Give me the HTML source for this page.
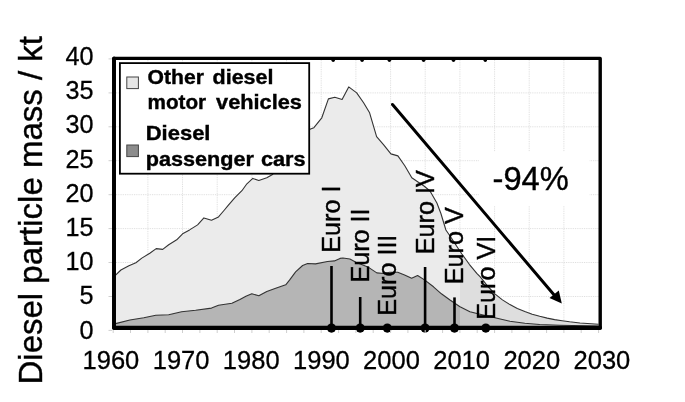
<!DOCTYPE html>
<html><head><meta charset="utf-8"><title>Diesel particle mass</title>
<style>
html,body{margin:0;padding:0;background:#fff;}
svg{display:block;}
text{font-family:"Liberation Sans",Arial,sans-serif;fill:#000;}
</style></head><body>
<svg width="685" height="402" viewBox="0 0 685 402">
<rect width="685" height="402" fill="#fff"/>
<defs>
<clipPath id="cl"><rect x="113" y="58" width="347" height="272"/></clipPath>
<clipPath id="cr"><rect x="460" y="58" width="140" height="272"/></clipPath>
</defs>
<g stroke="#dcdcdc" stroke-width="1" stroke-dasharray="0.9,0.9" fill="none">
<line x1="147.9" y1="60" x2="147.9" y2="326"/>
<line x1="182.5" y1="60" x2="182.5" y2="326"/>
<line x1="217.2" y1="60" x2="217.2" y2="326"/>
<line x1="251.9" y1="60" x2="251.9" y2="326"/>
<line x1="286.6" y1="60" x2="286.6" y2="326"/>
<line x1="321.2" y1="60" x2="321.2" y2="326"/>
<line x1="355.9" y1="60" x2="355.9" y2="326"/>
<line x1="390.6" y1="60" x2="390.6" y2="326"/>
<line x1="425.2" y1="60" x2="425.2" y2="326"/>
<line x1="459.9" y1="60" x2="459.9" y2="326"/>
<line x1="494.6" y1="60" x2="494.6" y2="326"/>
<line x1="529.2" y1="60" x2="529.2" y2="326"/>
<line x1="563.9" y1="60" x2="563.9" y2="326"/>
<line x1="116" y1="296.5" x2="599" y2="296.5"/>
<line x1="116" y1="262.5" x2="599" y2="262.5"/>
<line x1="116" y1="228.6" x2="599" y2="228.6"/>
<line x1="116" y1="194.7" x2="599" y2="194.7"/>
<line x1="116" y1="160.7" x2="599" y2="160.7"/>
<line x1="116" y1="126.8" x2="599" y2="126.8"/>
<line x1="116" y1="92.9" x2="599" y2="92.9"/>
</g>
<g clip-path="url(#cl)">
<path d="M113.2,277.0 L115.6,275.2 L120.9,270.0 L128.9,265.7 L135.9,262.7 L141.8,258.1 L149.8,253.3 L156.2,248.6 L162.7,249.4 L168.7,244.8 L176.7,239.8 L182.6,233.8 L189.6,229.9 L197.6,224.9 L203.9,217.9 L211.5,220.3 L218.5,216.9 L224.4,210.0 L228.0,205.7 L234.9,197.7 L241.9,190.7 L246.9,183.8 L252.8,178.4 L258.8,180.4 L266.8,177.8 L272.1,174.8 L280.0,166.0 L287.0,158.0 L294.0,150.0 L301.0,140.0 L309.9,129.3 L313.9,127.7 L321.8,117.8 L328.4,98.9 L334.8,97.3 L342.1,99.5 L348.7,86.9 L356.7,92.9 L363.6,102.8 L369.6,112.8 L376.6,136.7 L383.7,144.8 L390.9,153.9 L397.9,155.9 L404.8,165.8 L411.8,177.8 L418.0,182.0 L424.0,186.0 L430.0,191.0 L436.9,203.0 L440.9,213.5 L445.9,230.0 L451.4,238.0 L455.9,245.0 L461.9,254.0 L469.3,264.3 L476.8,273.3 L480.0,276.7 L484.3,281.8 L487.5,286.0 L494.9,293.9 L502.4,299.9 L509.9,304.6 L517.3,308.5 L524.8,311.5 L532.2,314.2 L539.7,316.3 L547.2,318.1 L554.6,319.6 L562.1,320.7 L569.6,321.8 L580.0,323.0 L598.5,324.2 L598.5,329 L113.2,329 Z" fill="#ebebeb"/>
<path d="M113.2,324.0 L115.6,323.6 L129.9,320.0 L143.8,317.7 L155.8,315.3 L168.7,314.7 L181.6,311.7 L195.6,310.3 L211.5,308.1 L218.5,305.3 L231.9,303.3 L239.9,299.4 L245.9,296.2 L251.8,293.8 L258.8,295.8 L266.8,291.4 L275.7,288.2 L285.7,284.8 L289.7,279.9 L295.6,271.9 L302.6,265.5 L307.6,263.5 L315.5,263.9 L327.5,261.5 L334.4,260.9 L340.0,258.4 L342.9,258.0 L349.9,259.0 L355.9,262.3 L367.8,266.9 L376.8,272.9 L383.7,273.5 L389.7,272.3 L397.7,272.3 L404.6,274.9 L411.6,278.3 L417.6,275.5 L424.5,279.9 L433.5,286.8 L441.4,293.8 L450.0,300.0 L460.0,306.7 L469.9,311.7 L480.0,314.3 L494.9,317.8 L509.9,321.2 L524.8,323.3 L539.7,324.5 L560.0,325.3 L598.5,326.0 L598.5,329 L113.2,329 Z" fill="#b5b5b5"/>
</g>
<g clip-path="url(#cr)">
<path d="M113.2,277.0 L115.6,275.2 L120.9,270.0 L128.9,265.7 L135.9,262.7 L141.8,258.1 L149.8,253.3 L156.2,248.6 L162.7,249.4 L168.7,244.8 L176.7,239.8 L182.6,233.8 L189.6,229.9 L197.6,224.9 L203.9,217.9 L211.5,220.3 L218.5,216.9 L224.4,210.0 L228.0,205.7 L234.9,197.7 L241.9,190.7 L246.9,183.8 L252.8,178.4 L258.8,180.4 L266.8,177.8 L272.1,174.8 L280.0,166.0 L287.0,158.0 L294.0,150.0 L301.0,140.0 L309.9,129.3 L313.9,127.7 L321.8,117.8 L328.4,98.9 L334.8,97.3 L342.1,99.5 L348.7,86.9 L356.7,92.9 L363.6,102.8 L369.6,112.8 L376.6,136.7 L383.7,144.8 L390.9,153.9 L397.9,155.9 L404.8,165.8 L411.8,177.8 L418.0,182.0 L424.0,186.0 L430.0,191.0 L436.9,203.0 L440.9,213.5 L445.9,230.0 L451.4,238.0 L455.9,245.0 L461.9,254.0 L469.3,264.3 L476.8,273.3 L480.0,276.7 L484.3,281.8 L487.5,286.0 L494.9,293.9 L502.4,299.9 L509.9,304.6 L517.3,308.5 L524.8,311.5 L532.2,314.2 L539.7,316.3 L547.2,318.1 L554.6,319.6 L562.1,320.7 L569.6,321.8 L580.0,323.0 L598.5,324.2 L598.5,329 L113.2,329 Z" fill="#dedede"/>
<path d="M113.2,324.0 L115.6,323.6 L129.9,320.0 L143.8,317.7 L155.8,315.3 L168.7,314.7 L181.6,311.7 L195.6,310.3 L211.5,308.1 L218.5,305.3 L231.9,303.3 L239.9,299.4 L245.9,296.2 L251.8,293.8 L258.8,295.8 L266.8,291.4 L275.7,288.2 L285.7,284.8 L289.7,279.9 L295.6,271.9 L302.6,265.5 L307.6,263.5 L315.5,263.9 L327.5,261.5 L334.4,260.9 L340.0,258.4 L342.9,258.0 L349.9,259.0 L355.9,262.3 L367.8,266.9 L376.8,272.9 L383.7,273.5 L389.7,272.3 L397.7,272.3 L404.6,274.9 L411.6,278.3 L417.6,275.5 L424.5,279.9 L433.5,286.8 L441.4,293.8 L450.0,300.0 L460.0,306.7 L469.9,311.7 L480.0,314.3 L494.9,317.8 L509.9,321.2 L524.8,323.3 L539.7,324.5 L560.0,325.3 L598.5,326.0 L598.5,329 L113.2,329 Z" fill="#c6c6c6"/>
</g>
<path d="M113.2,277.0 L115.6,275.2 L120.9,270.0 L128.9,265.7 L135.9,262.7 L141.8,258.1 L149.8,253.3 L156.2,248.6 L162.7,249.4 L168.7,244.8 L176.7,239.8 L182.6,233.8 L189.6,229.9 L197.6,224.9 L203.9,217.9 L211.5,220.3 L218.5,216.9 L224.4,210.0 L228.0,205.7 L234.9,197.7 L241.9,190.7 L246.9,183.8 L252.8,178.4 L258.8,180.4 L266.8,177.8 L272.1,174.8 L280.0,166.0 L287.0,158.0 L294.0,150.0 L301.0,140.0 L309.9,129.3 L313.9,127.7 L321.8,117.8 L328.4,98.9 L334.8,97.3 L342.1,99.5 L348.7,86.9 L356.7,92.9 L363.6,102.8 L369.6,112.8 L376.6,136.7 L383.7,144.8 L390.9,153.9 L397.9,155.9 L404.8,165.8 L411.8,177.8 L418.0,182.0 L424.0,186.0 L430.0,191.0 L436.9,203.0 L440.9,213.5 L445.9,230.0 L451.4,238.0 L455.9,245.0 L461.9,254.0 L469.3,264.3 L476.8,273.3 L480.0,276.7 L484.3,281.8 L487.5,286.0 L494.9,293.9 L502.4,299.9 L509.9,304.6 L517.3,308.5 L524.8,311.5 L532.2,314.2 L539.7,316.3 L547.2,318.1 L554.6,319.6 L562.1,320.7 L569.6,321.8 L580.0,323.0 L598.5,324.2" fill="none" stroke="#333" stroke-width="1.1" stroke-linejoin="round"/>
<path d="M113.2,324.0 L115.6,323.6 L129.9,320.0 L143.8,317.7 L155.8,315.3 L168.7,314.7 L181.6,311.7 L195.6,310.3 L211.5,308.1 L218.5,305.3 L231.9,303.3 L239.9,299.4 L245.9,296.2 L251.8,293.8 L258.8,295.8 L266.8,291.4 L275.7,288.2 L285.7,284.8 L289.7,279.9 L295.6,271.9 L302.6,265.5 L307.6,263.5 L315.5,263.9 L327.5,261.5 L334.4,260.9 L340.0,258.4 L342.9,258.0 L349.9,259.0 L355.9,262.3 L367.8,266.9 L376.8,272.9 L383.7,273.5 L389.7,272.3 L397.7,272.3 L404.6,274.9 L411.6,278.3 L417.6,275.5 L424.5,279.9 L433.5,286.8 L441.4,293.8 L450.0,300.0 L460.0,306.7 L469.9,311.7 L480.0,314.3 L494.9,317.8 L509.9,321.2 L524.8,323.3 L539.7,324.5 L560.0,325.3 L598.5,326.0" fill="none" stroke="#333" stroke-width="1.1" stroke-linejoin="round"/>
<rect x="479" y="151.5" width="110.5" height="54.5" fill="#fff"/>
<!-- legend -->
<rect x="119.9" y="63.1" width="189.3" height="110.6" fill="#fff" stroke="#000" stroke-width="1.8"/>
<rect x="126.8" y="77" width="11.6" height="11.6" fill="#e6e6e6" stroke="#444" stroke-width="1"/>
<rect x="126.8" y="145" width="11.6" height="11.6" fill="#8c8c8c" stroke="#444" stroke-width="1"/>
<g font-weight="bold" font-size="21.0" stroke="#000" stroke-width="0.4">
<text y="84.0"><tspan x="147.55" textLength="56.35" lengthAdjust="spacingAndGlyphs">Other</tspan> <tspan x="212.54" textLength="60.97" lengthAdjust="spacingAndGlyphs">diesel</tspan></text>
<text y="109.3"><tspan x="147.56" textLength="58.62" lengthAdjust="spacingAndGlyphs">motor</tspan> <tspan x="216.09" textLength="85.88" lengthAdjust="spacingAndGlyphs">vehicles</tspan></text>
<text y="140.4"><tspan x="145.72" textLength="64.75" lengthAdjust="spacingAndGlyphs">Diesel</tspan></text>
<text y="166.1"><tspan x="145.80" textLength="108.13" lengthAdjust="spacingAndGlyphs">passenger</tspan> <tspan x="260.93" textLength="44.74" lengthAdjust="spacingAndGlyphs">cars</tspan></text>
</g>
<!-- euro markers -->
<line x1="331.5" y1="266" x2="331.5" y2="328" stroke="#000" stroke-width="2.6"/>
<circle cx="331.5" cy="328.1" r="4.6" fill="#000"/>
<text transform="translate(340.4,252.8) rotate(-90) scale(1,1.04)" font-size="25.2" stroke="#000" stroke-width="0.4">Euro I</text>
<line x1="360.2" y1="297" x2="360.2" y2="328" stroke="#000" stroke-width="2.6"/>
<circle cx="360.2" cy="328.1" r="4.6" fill="#000"/>
<text transform="translate(369,282.6) rotate(-90) scale(1,1.04)" font-size="25.2" stroke="#000" stroke-width="0.4">Euro II</text>
<circle cx="387.3" cy="328.1" r="4.6" fill="#000"/>
<text transform="translate(396,315.8) rotate(-90) scale(1,1.04)" font-size="25.2" stroke="#000" stroke-width="0.4">Euro III</text>
<line x1="425.1" y1="267" x2="425.1" y2="328" stroke="#000" stroke-width="2.6"/>
<circle cx="425.1" cy="328.1" r="4.6" fill="#000"/>
<text transform="translate(434,254.3) rotate(-90) scale(1,1.04)" font-size="25.2" stroke="#000" stroke-width="0.4">Euro IV</text>
<line x1="454.5" y1="297.4" x2="454.5" y2="328" stroke="#000" stroke-width="2.6"/>
<circle cx="454.5" cy="328.1" r="4.6" fill="#000"/>
<text transform="translate(463,284.3) rotate(-90) scale(1,1.04)" font-size="25.2" stroke="#000" stroke-width="0.4">Euro V</text>
<circle cx="485.8" cy="328.1" r="4.6" fill="#000"/>
<text transform="translate(495,319.8) rotate(-90) scale(1,1.04)" font-size="25.2" stroke="#000" stroke-width="0.4">Euro VI</text>
<!-- arrow -->
<line x1="392.5" y1="104.5" x2="555" y2="296" stroke="#000" stroke-width="3" stroke-linecap="round"/>
<polygon points="549.5,298 558.8,290.4 561.8,303.6" fill="#000"/>
<text transform="translate(492.6,189.8) scale(0.98,1)" font-size="33.3" stroke="#000" stroke-width="0.4">-94%</text>
<circle cx="333.2" cy="60.3" r="1.7" fill="#000"/><circle cx="362.1" cy="60.3" r="1.7" fill="#000"/><circle cx="389.4" cy="60.3" r="1.7" fill="#000"/><circle cx="423.6" cy="60.3" r="1.7" fill="#000"/><circle cx="453.5" cy="60.3" r="1.7" fill="#000"/><circle cx="485.3" cy="60.3" r="1.7" fill="#000"/>
<!-- frame -->
<rect x="114" y="58.4" width="486.2" height="269.4" fill="none" stroke="#000" stroke-width="3.4" stroke-linejoin="round"/>
<line x1="114.2" y1="327.9" x2="600" y2="327.9" stroke="#000" stroke-width="4.1" stroke-linecap="round"/>
<line x1="114" y1="58.4" x2="114" y2="327.8" stroke="#000" stroke-width="3.9" stroke-linecap="round"/>
<g stroke="#cfcfcf" stroke-width="1">
<line x1="113.2" y1="330" x2="113.2" y2="333"/>
<line x1="130.5" y1="330" x2="130.5" y2="333"/>
<line x1="147.9" y1="330" x2="147.9" y2="333"/>
<line x1="165.2" y1="330" x2="165.2" y2="333"/>
<line x1="182.5" y1="330" x2="182.5" y2="333"/>
<line x1="199.9" y1="330" x2="199.9" y2="333"/>
<line x1="217.2" y1="330" x2="217.2" y2="333"/>
<line x1="234.5" y1="330" x2="234.5" y2="333"/>
<line x1="251.9" y1="330" x2="251.9" y2="333"/>
<line x1="269.2" y1="330" x2="269.2" y2="333"/>
<line x1="286.6" y1="330" x2="286.6" y2="333"/>
<line x1="303.9" y1="330" x2="303.9" y2="333"/>
<line x1="321.2" y1="330" x2="321.2" y2="333"/>
<line x1="338.6" y1="330" x2="338.6" y2="333"/>
<line x1="355.9" y1="330" x2="355.9" y2="333"/>
<line x1="373.2" y1="330" x2="373.2" y2="333"/>
<line x1="390.6" y1="330" x2="390.6" y2="333"/>
<line x1="407.9" y1="330" x2="407.9" y2="333"/>
<line x1="425.2" y1="330" x2="425.2" y2="333"/>
<line x1="442.6" y1="330" x2="442.6" y2="333"/>
<line x1="459.9" y1="330" x2="459.9" y2="333"/>
<line x1="477.2" y1="330" x2="477.2" y2="333"/>
<line x1="494.6" y1="330" x2="494.6" y2="333"/>
<line x1="511.9" y1="330" x2="511.9" y2="333"/>
<line x1="529.2" y1="330" x2="529.2" y2="333"/>
<line x1="546.6" y1="330" x2="546.6" y2="333"/>
<line x1="563.9" y1="330" x2="563.9" y2="333"/>
<line x1="581.2" y1="330" x2="581.2" y2="333"/>
<line x1="598.6" y1="330" x2="598.6" y2="333"/>
<line x1="108.5" y1="330.4" x2="112" y2="330.4"/>
<line x1="108.5" y1="296.5" x2="112" y2="296.5"/>
<line x1="108.5" y1="262.5" x2="112" y2="262.5"/>
<line x1="108.5" y1="228.6" x2="112" y2="228.6"/>
<line x1="108.5" y1="194.7" x2="112" y2="194.7"/>
<line x1="108.5" y1="160.7" x2="112" y2="160.7"/>
<line x1="108.5" y1="126.8" x2="112" y2="126.8"/>
<line x1="108.5" y1="92.9" x2="112" y2="92.9"/>
<line x1="108.5" y1="58.9" x2="112" y2="58.9"/>
</g>
<!-- axis labels -->
<text transform="translate(93.6,338.6) scale(0.977,1)" text-anchor="end" font-size="25.8" stroke="#000" stroke-width="0.3">0</text>
<text transform="translate(93.6,304.4) scale(0.977,1)" text-anchor="end" font-size="25.8" stroke="#000" stroke-width="0.3">5</text>
<text transform="translate(93.6,270.2) scale(0.977,1)" text-anchor="end" font-size="25.8" stroke="#000" stroke-width="0.3">10</text>
<text transform="translate(93.6,236.0) scale(0.977,1)" text-anchor="end" font-size="25.8" stroke="#000" stroke-width="0.3">15</text>
<text transform="translate(93.6,201.7) scale(0.977,1)" text-anchor="end" font-size="25.8" stroke="#000" stroke-width="0.3">20</text>
<text transform="translate(93.6,167.5) scale(0.977,1)" text-anchor="end" font-size="25.8" stroke="#000" stroke-width="0.3">25</text>
<text transform="translate(93.6,133.3) scale(0.977,1)" text-anchor="end" font-size="25.8" stroke="#000" stroke-width="0.3">30</text>
<text transform="translate(93.6,99.1) scale(0.977,1)" text-anchor="end" font-size="25.8" stroke="#000" stroke-width="0.3">35</text>
<text transform="translate(93.6,64.9) scale(0.977,1)" text-anchor="end" font-size="25.8" stroke="#000" stroke-width="0.3">40</text>
<text transform="translate(110.9,368.8) scale(0.96,1)" text-anchor="middle" font-size="26.6" stroke="#000" stroke-width="0.3">1960</text>
<text transform="translate(181.1,368.8) scale(0.96,1)" text-anchor="middle" font-size="26.6" stroke="#000" stroke-width="0.3">1970</text>
<text transform="translate(251.2,368.8) scale(0.96,1)" text-anchor="middle" font-size="26.6" stroke="#000" stroke-width="0.3">1980</text>
<text transform="translate(321.4,368.8) scale(0.96,1)" text-anchor="middle" font-size="26.6" stroke="#000" stroke-width="0.3">1990</text>
<text transform="translate(391.5,368.8) scale(0.96,1)" text-anchor="middle" font-size="26.6" stroke="#000" stroke-width="0.3">2000</text>
<text transform="translate(461.6,368.8) scale(0.96,1)" text-anchor="middle" font-size="26.6" stroke="#000" stroke-width="0.3">2010</text>
<text transform="translate(531.8,368.8) scale(0.96,1)" text-anchor="middle" font-size="26.6" stroke="#000" stroke-width="0.3">2020</text>
<text transform="translate(601.9,368.8) scale(0.96,1)" text-anchor="middle" font-size="26.6" stroke="#000" stroke-width="0.3">2030</text>
<text transform="translate(42,384.5) rotate(-90)" font-size="33" stroke="#000" stroke-width="0.4">Diesel particle mass / kt</text>
</svg>
</body></html>
